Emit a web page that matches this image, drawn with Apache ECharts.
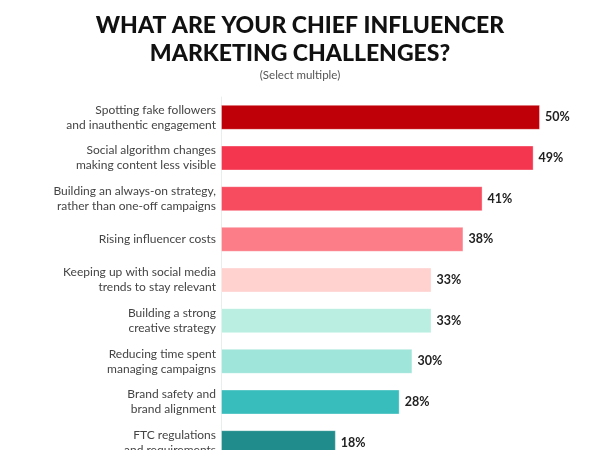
<!DOCTYPE html>
<html><head><meta charset="utf-8">
<script src="https://cdn.jsdelivr.net/npm/echarts@6/dist/echarts.min.js"></script>
<style>html,body{margin:0;padding:0;background:#fff;overflow:hidden}#c{width:600px;height:463px}</style>
</head><body><div id="c"></div>
<script>
const categories = [
  "Spotting fake followers\nand inauthentic engagement",
  "Social algorithm changes\nmaking content less visible",
  "Building an always-on strategy,\nrather than one-off campaigns",
  "Rising influencer costs",
  "Keeping up with social media\ntrends to stay relevant",
  "Building a strong\ncreative strategy",
  "Reducing time spent\nmanaging campaigns",
  "Brand safety and\nbrand alignment",
  "FTC regulations\nand requirements"
];
const values = [50, 49, 41, 38, 33, 33, 30, 28, 18];
const barColors = ["#C00008", "#F5364F", "#F74C60", "#FC7D88", "#FFD2CF", "#B9EEE0", "#9FE5D9", "#38BDBC", "#218C8C"];

const chart = echarts.init(document.getElementById('c'), null, {renderer: 'canvas'});
chart.setOption({
  animation: false,
  backgroundColor: '#ffffff',
  title: {
    text: 'WHAT ARE YOUR CHIEF INFLUENCER\nMARKETING CHALLENGES?',
    subtext: '(Select multiple)',
    left: 'center', top: 7, itemGap: 1,
    textStyle: {fontFamily: 'Lato', fontWeight: 900, fontSize: 23, color: '#111', lineHeight: 28, align: 'center'},
    subtextStyle: {fontFamily: 'Lato', fontSize: 11.5, color: '#555', align: 'center'}
  },
  grid: {left: 221, top: 97, right: 60, bottom: 0, containLabel: false},
  xAxis: {type: 'value', min: 0, max: 50, show: false},
  yAxis: {
    type: 'category', data: categories, inverse: true,
    axisLine: {show: true, lineStyle: {color: '#e6eeee', width: 1}},
    axisTick: {show: false},
    axisLabel: {color: '#444', fontFamily: 'Lato', fontSize: 12, lineHeight: 15, margin: 5, align: 'right'}
  },
  series: [{
    type: 'bar',
    data: values.map((v, i) => ({value: v, itemStyle: {color: barColors[i]}})),
    barWidth: 25,
    itemStyle: {borderColor: 'rgba(255,255,255,0.35)', borderWidth: 1},
    label: {show: true, position: 'right', distance: 5, formatter: '{c}%', fontFamily: 'Lato', fontWeight: 'bold', fontSize: 12.5, color: '#222'}
  }]
});
</script></body></html>
